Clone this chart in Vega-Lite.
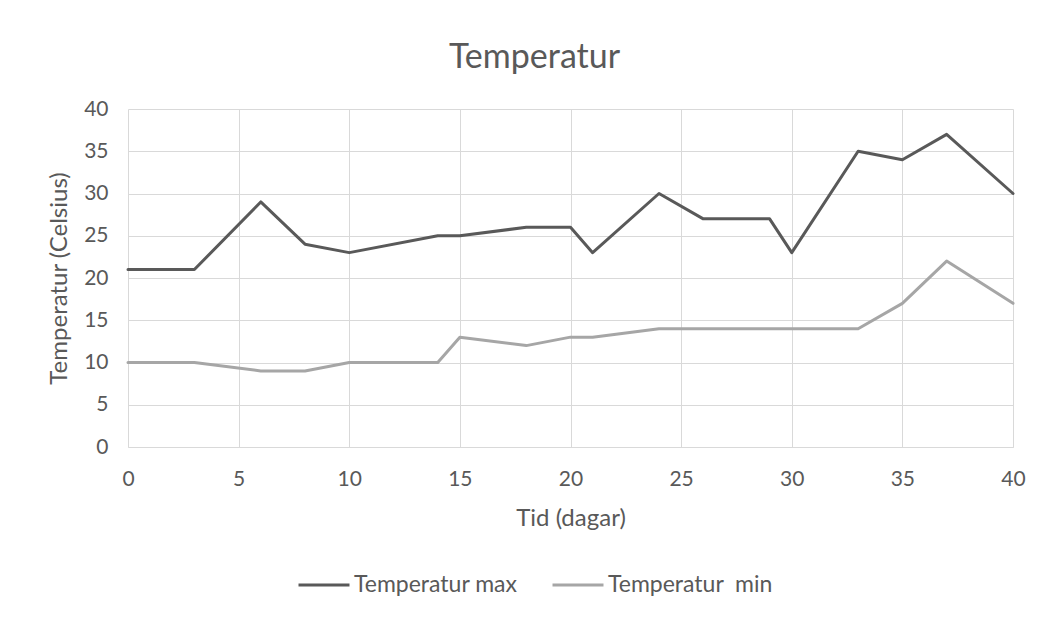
{
  "$schema": "https://vega.github.io/schema/vega-lite/v6.json",
  "width": 885,
  "height": 338,
  "autosize": "none",
  "padding": {"left": 128, "top": 109, "right": 32, "bottom": 173},
  "background": "white",
  "title": {
    "text": "Temperatur",
    "fontSize": 34,
    "font": "Lato",
    "fontWeight": "normal",
    "color": "#595959",
    "anchor": "middle",
    "dx": -36,
    "offset": 23
  },
  "config": {
    "font": "Lato",
    "view": {"stroke": null},
    "axis": {
      "gridColor": "#d9d9d9",
      "gridWidth": 1,
      "domainColor": "#d9d9d9",
      "ticks": false,
      "labelFontSize": 21,
      "labelColor": "#595959",
      "titleFontSize": 24,
      "titleFontWeight": "normal",
      "titleColor": "#595959"
    }
  },
  "data": {
    "values": [
      {"dag": 0, "serie": "Temperatur max", "temp": 21},
      {"dag": 3, "serie": "Temperatur max", "temp": 21},
      {"dag": 6, "serie": "Temperatur max", "temp": 29},
      {"dag": 8, "serie": "Temperatur max", "temp": 24},
      {"dag": 10, "serie": "Temperatur max", "temp": 23},
      {"dag": 14, "serie": "Temperatur max", "temp": 25},
      {"dag": 15, "serie": "Temperatur max", "temp": 25},
      {"dag": 18, "serie": "Temperatur max", "temp": 26},
      {"dag": 20, "serie": "Temperatur max", "temp": 26},
      {"dag": 21, "serie": "Temperatur max", "temp": 23},
      {"dag": 24, "serie": "Temperatur max", "temp": 30},
      {"dag": 26, "serie": "Temperatur max", "temp": 27},
      {"dag": 29, "serie": "Temperatur max", "temp": 27},
      {"dag": 30, "serie": "Temperatur max", "temp": 23},
      {"dag": 33, "serie": "Temperatur max", "temp": 35},
      {"dag": 35, "serie": "Temperatur max", "temp": 34},
      {"dag": 37, "serie": "Temperatur max", "temp": 37},
      {"dag": 40, "serie": "Temperatur max", "temp": 30},
      {"dag": 0, "serie": "Temperatur\u00a0 min", "temp": 10},
      {"dag": 3, "serie": "Temperatur\u00a0 min", "temp": 10},
      {"dag": 6, "serie": "Temperatur\u00a0 min", "temp": 9},
      {"dag": 8, "serie": "Temperatur\u00a0 min", "temp": 9},
      {"dag": 10, "serie": "Temperatur\u00a0 min", "temp": 10},
      {"dag": 14, "serie": "Temperatur\u00a0 min", "temp": 10},
      {"dag": 15, "serie": "Temperatur\u00a0 min", "temp": 13},
      {"dag": 18, "serie": "Temperatur\u00a0 min", "temp": 12},
      {"dag": 20, "serie": "Temperatur\u00a0 min", "temp": 13},
      {"dag": 21, "serie": "Temperatur\u00a0 min", "temp": 13},
      {"dag": 24, "serie": "Temperatur\u00a0 min", "temp": 14},
      {"dag": 26, "serie": "Temperatur\u00a0 min", "temp": 14},
      {"dag": 29, "serie": "Temperatur\u00a0 min", "temp": 14},
      {"dag": 30, "serie": "Temperatur\u00a0 min", "temp": 14},
      {"dag": 33, "serie": "Temperatur\u00a0 min", "temp": 14},
      {"dag": 35, "serie": "Temperatur\u00a0 min", "temp": 17},
      {"dag": 37, "serie": "Temperatur\u00a0 min", "temp": 22},
      {"dag": 40, "serie": "Temperatur\u00a0 min", "temp": 17}
    ]
  },
  "mark": {"type": "line", "strokeWidth": 3, "strokeJoin": "round", "strokeCap": "round"},
  "encoding": {
    "x": {
      "field": "dag",
      "type": "quantitative",
      "title": "Tid (dagar)",
      "scale": {"domain": [0, 40], "nice": false},
      "axis": {"values": [0, 5, 10, 15, 20, 25, 30, 35, 40], "labelFlush": false, "labelPadding": 21, "titlePadding": 17}
    },
    "y": {
      "field": "temp",
      "type": "quantitative",
      "title": "Temperatur (Celsius)",
      "scale": {"domain": [0, 40], "nice": false},
      "axis": {"values": [0, 5, 10, 15, 20, 25, 30, 35, 40], "labelPadding": 20, "titlePadding": 12, "domain": false}
    },
    "color": {
      "field": "serie",
      "type": "nominal",
      "sort": ["Temperatur max", "Temperatur\u00a0 min"],
      "scale": {"domain": ["Temperatur max", "Temperatur\u00a0 min"], "range": ["#595959", "#a6a6a6"]},
      "legend": {
        "title": null,
        "orient": "none",
        "direction": "horizontal",
        "legendX": 169,
        "legendY": 449,
        "symbolType": "stroke",
        "symbolSize": 2600,
        "symbolStrokeWidth": 3,
        "labelFontSize": 23,
        "labelColor": "#595959",
        "labelOffset": 3,
        "columnPadding": 28,
        "labelLimit": 300
      }
    }
  }
}
